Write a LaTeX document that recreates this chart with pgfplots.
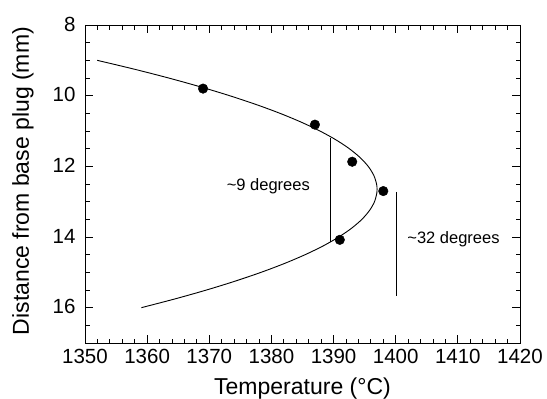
\documentclass[border=0pt]{standalone}
\usepackage{pgfplots}
\pgfplotsset{compat=1.18}
\usepackage{fontspec}
\setmainfont{Liberation Sans}
\begin{document}
\begin{tikzpicture}
\begin{axis}[
  name=ax,
  scale only axis,
  width=435pt, height=318pt,
  xmin=1350, xmax=1420, ymin=8, ymax=17,
  y dir=reverse,
  xtick={1350,1360,...,1420},
  ytick={8,10,12,14,16},
  minor xtick={1352,1354,...,1418},
  minor ytick={8.5,9,...,16.5},
  tick pos=both,
  tick align=inside,
  major tick length=8pt,
  minor tick length=4.5pt,
  axis line style={line width=0.9pt},
  major tick style={line width=0.9pt, black},
  minor tick style={line width=0.8pt, black},
  /pgf/number format/assume math mode=true,
  /pgf/number format/1000 sep={},
  tick label style={font=\fontsize{20.5}{24}\selectfont},
  xticklabel style={anchor=north, yshift=-3pt},
  yticklabel style={anchor=east, xshift=-6pt, yshift=1pt},
  xlabel={Temperature (°C)},
  ylabel={Distance from base plug (mm)},
  label style={font=\fontsize{23}{27}\selectfont},
  xlabel style={at={(axis description cs:0.5,0)}, anchor=base, yshift=-51pt},
  ylabel style={at={(axis description cs:0,0.5)}, anchor=center, yshift=62pt, xshift=3pt},
  clip=false,
]
\addplot[black, line width=0.9pt, smooth, no marks] coordinates {
(1351.97,9.0) (1357.93,9.25) (1363.46,9.5) (1368.57,9.75) (1373.26,10.0)
(1377.53,10.25) (1381.38,10.5) (1384.80,10.75) (1387.80,11.0) (1390.38,11.25)
(1392.53,11.5) (1394.26,11.75) (1395.57,12.0) (1396.46,12.25) (1396.92,12.5)
(1397.00,12.65) (1396.97,12.75) (1396.59,13.0) (1395.78,13.25) (1394.56,13.5)
(1392.91,13.75) (1390.84,14.0) (1388.35,14.25) (1385.43,14.5) (1382.09,14.75)
(1378.33,15.0) (1374.15,15.25) (1369.55,15.5) (1364.52,15.75) (1359.07,16.0)
};
\addplot[only marks, mark=*, mark size=4.8pt, mark options={fill=black, draw=black}] coordinates {
(1369,9.80) (1387,10.82) (1393,11.87) (1398,12.70) (1391,14.08)
};
\addplot[black, line width=1.6pt, no marks] coordinates {(1389.5,11.2) (1389.5,14.13)};
\addplot[black, line width=1.6pt, no marks] coordinates {(1400.1,12.72) (1400.1,15.68)};
\node[font=\fontsize{16.5}{19}\selectfont] at (axis cs:1379.5,12.55) {\char`\~9 degrees};
\node[font=\fontsize{16.5}{19}\selectfont] at (axis cs:1409.3,14.06) {\char`\~32 degrees};
\end{axis}
\pgfresetboundingbox
\path ([shift={(-85pt,-55pt)}]ax.south west) rectangle ([shift={(27pt,25pt)}]ax.north east);
\end{tikzpicture}
\end{document}
